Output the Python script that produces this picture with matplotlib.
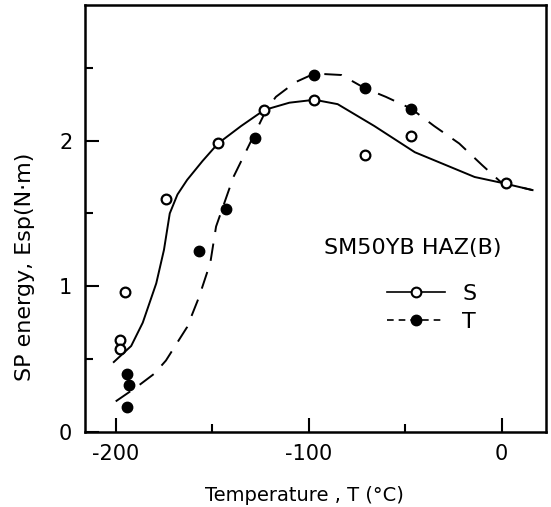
import matplotlib
matplotlib.use('Agg')
import matplotlib.pyplot as plt
from matplotlib.lines import Line2D

plt.rcParams['font.family'] = ['DejaVu Sans']

# measured points, S (open) and T (filled)
s_temp = [-198, -198, -195, -174, -147, -123, -97, -71, -47, 2]
s_energy = [0.63, 0.57, 0.96, 1.60, 1.98, 2.21, 2.28, 1.90, 2.03, 1.71]
t_temp = [-194, -193, -194, -157, -143, -128, -97, -71, -47]
t_energy = [0.40, 0.32, 0.17, 1.24, 1.53, 2.02, 2.45, 2.36, 2.22]

# fitted curves as drawn in the figure
s_curve_x = [-201, -192, -186, -179, -175, -172, -168, -163, -155, -147, -135, -123, -110, -97, -85, -66, -45, -14, 0, 16]
s_curve_y = [0.48, 0.59, 0.75, 1.02, 1.25, 1.50, 1.63, 1.73, 1.86, 1.98, 2.10, 2.21, 2.26, 2.28, 2.25, 2.10, 1.92, 1.75, 1.71, 1.66]
t_curve_x = [-200, -189, -180, -174, -163, -157, -151, -148, -139, -129, -122, -117, -107, -97, -83, -71, -60, -47, -35, -22, -10, 0, 16]
t_curve_y = [0.21, 0.31, 0.40, 0.49, 0.72, 0.92, 1.16, 1.41, 1.75, 2.02, 2.21, 2.30, 2.40, 2.46, 2.45, 2.36, 2.30, 2.22, 2.10, 1.98, 1.83, 1.71, 1.66]

fig = plt.figure(figsize=(5.51, 5.07), dpi=100)
ax = fig.add_axes([0.154, 0.148, 0.837, 0.842])

ax.plot(s_curve_x, s_curve_y, color='black', lw=1.4)
ax.plot(t_curve_x, t_curve_y, color='black', lw=1.4, dashes=(9, 6))
ax.plot(s_temp, s_energy, 'o', ms=7, mfc='white', mec='black', mew=1.6, zorder=3)
ax.plot(t_temp, t_energy, 'o', ms=7.5, mfc='black', mec='black', zorder=3)

ax.set_xlim(-216, 23)
ax.set_ylim(0, 2.93)
ax.set_xticks([-200, -100, 0])
ax.set_xticklabels(['-200', '-100', '0'])
ax.set_xticks([-150, -50], minor=True)
ax.set_yticks([0, 1, 2])
ax.set_yticks([0.5, 1.5, 2.5], minor=True)
ax.tick_params(which='both', direction='in', labelsize=15, width=1.5)
ax.tick_params(which='major', length=10, pad=9)
ax.tick_params(which='minor', length=6)
for sp in ax.spines.values():
    sp.set_linewidth(1.8)

ax.set_xlabel('Temperature , T (\u00b0C)', fontsize=14, va='center')
ax.xaxis.set_label_coords(0.477, -0.15)
ax.set_ylabel('SP energy, Esp(N\u00b7m)', fontsize=16, va='center')
ax.yaxis.set_label_coords(-0.13, 0.386)

ax.text(-46, 1.26, 'SM50YB HAZ(B)', fontsize=16, ha='center', va='center')
handles = [
    Line2D([], [], color='black', lw=1.2, marker='o', ms=7, mfc='white', mec='black', mew=1.5),
    Line2D([], [], color='black', lw=1.2, dashes=(4, 3), marker='o', ms=7.5, mfc='black'),
]
ax.legend(handles, ['S', 'T'], loc='center', bbox_to_anchor=(0.752, 0.29), frameon=False,
          fontsize=16, handlelength=2.6, handletextpad=0.8, labelspacing=0.35)

fig.savefig('out.png', dpi=100)
